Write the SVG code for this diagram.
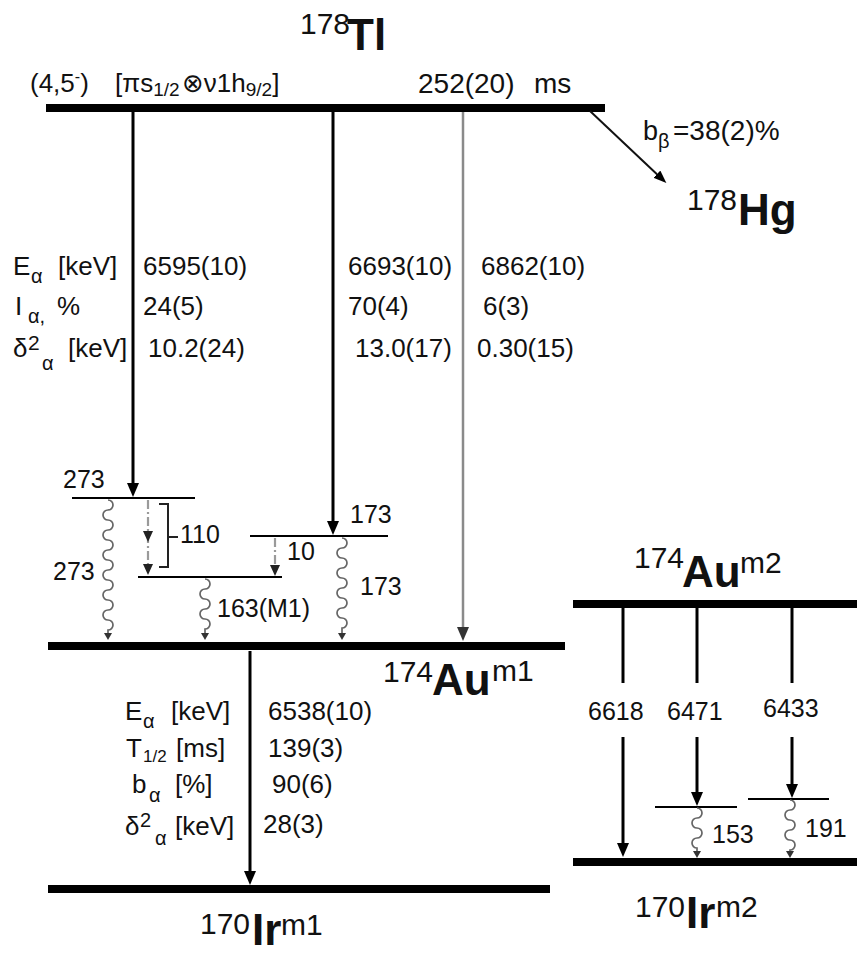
<svg xmlns="http://www.w3.org/2000/svg" width="857" height="957" viewBox="0 0 857 957">
<defs>
<style>
text{font-family:"Liberation Sans",Arial,"DejaVu Sans",sans-serif;fill:#111}
.t{font-size:26px}
.lb{font-size:25px}
.sub{font-size:20px}
.iso{font-size:30px}
.el{font-size:44px;font-weight:bold}
.lvl{stroke:#000;stroke-width:2;fill:none}
.thick{stroke:#000;stroke-width:8;fill:none}
.arr{stroke:#000;stroke-width:3;fill:none}
.garr{stroke:#8a8a8a;stroke-width:2.5;fill:none}
.wavy{stroke:#666;stroke-width:1.7;fill:none}
.dash{stroke:#9a9a9a;stroke-width:2.2;fill:none;stroke-dasharray:9 3 2 3}
.brk{stroke:#222;stroke-width:2;fill:none}
</style>
<marker id="big" markerUnits="userSpaceOnUse" viewBox="0 0 14 12" refX="8" refY="6" markerWidth="14" markerHeight="12" orient="auto"><path d="M0,0 L14,6 L0,12 z" fill="#000"/></marker>
<marker id="gbig" markerUnits="userSpaceOnUse" viewBox="0 0 14 12" refX="8" refY="6" markerWidth="14" markerHeight="12" orient="auto"><path d="M0,0 L14,6 L0,12 z" fill="#333"/></marker>
<marker id="med" markerUnits="userSpaceOnUse" viewBox="0 0 11 10" refX="6" refY="5" markerWidth="11" markerHeight="10" orient="auto"><path d="M0,0 L11,5 L0,10 z" fill="#222"/></marker>
<marker id="small" markerUnits="userSpaceOnUse" viewBox="0 0 7 8" refX="3" refY="4" markerWidth="7" markerHeight="8" orient="auto"><path d="M0,0 L7,4 L0,8 z" fill="#333"/></marker>
<marker id="beta" markerUnits="userSpaceOnUse" viewBox="0 0 13 10" refX="7" refY="5" markerWidth="13" markerHeight="10" orient="auto"><path d="M0,0 L13,5 L0,10 z" fill="#000"/></marker>
</defs>
<rect width="857" height="957" fill="#fff"/>

<g id="tl178">
<line class="thick" x1="46" y1="108" x2="605" y2="108" stroke-width="7"/>
<text class="iso" x="300" y="34" font-size="28">178</text>
<text class="el" x="347" y="50" font-size="46">Tl</text>
<text class="t" x="30" y="92">(4,5<tspan font-size="16" dy="-10">-</tspan><tspan dy="10">)</tspan><tspan x="115">[πs</tspan><tspan font-size="19" dy="4">1/2</tspan><tspan x="182" dy="-4">⊗ν1h</tspan><tspan font-size="19" dy="4">9/2</tspan><tspan dy="-4">]</tspan></text>
<text x="418" y="93" font-size="28">252(20)<tspan x="534">ms</tspan></text>
</g>

<g id="hg178">
<text class="iso" x="687" y="210">178</text>
<text class="el" x="738" y="225" font-size="45">Hg</text>
</g>

<g id="lvl273"><line class="lvl" x1="72" y1="498" x2="195" y2="498"/></g>
<g id="lvl173"><line class="lvl" x1="250" y1="536" x2="388" y2="536"/></g>
<g id="lvl110"><line class="lvl" x1="138" y1="577" x2="282" y2="577"/></g>

<g id="au174m1">
<line class="thick" x1="48" y1="646" x2="565" y2="646" stroke-width="9"/>
<text class="iso" x="383" y="682">174</text>
<text class="el" x="432" y="695" font-size="46">Au</text>
<text class="iso" x="492" y="681">m1</text>
</g>

<g id="ir170m1">
<line class="thick" x1="48" y1="889" x2="550" y2="889"/>
<text class="iso" x="200" y="934">170</text>
<text class="el" x="252" y="945" font-size="42">Ir</text>
<text class="iso" x="281" y="935">m1</text>
</g>

<g id="au174m2">
<line class="thick" x1="573" y1="604" x2="857" y2="604"/>
<text class="iso" x="634" y="568" font-size="28">174</text>
<text class="el" x="682" y="587" font-size="41">Au</text>
<text class="iso" x="740" y="573">m2</text>
</g>

<g id="lvl153"><line class="lvl" x1="655" y1="807" x2="737" y2="807"/></g>
<g id="lvl191"><line class="lvl" x1="748" y1="799" x2="829" y2="799"/></g>

<g id="ir170m2">
<line class="thick" x1="573" y1="862" x2="857" y2="862"/>
<text class="iso" x="635" y="917">170</text>
<text class="el" x="686" y="928">Ir</text>
<text class="iso" x="716" y="917">m2</text>
</g>

<g id="connectors">
<line class="arr" x1="133" y1="112" x2="133" y2="491" marker-end="url(#big)"/>
<line class="arr" x1="333" y1="112" x2="333" y2="529" marker-end="url(#big)"/>
<line class="garr" x1="463" y1="112" x2="463" y2="635" marker-end="url(#gbig)"/>
<line stroke="#111" stroke-width="2" x1="590" y1="111" x2="662" y2="179" marker-end="url(#beta)"/>
<line class="arr" x1="250" y1="651" x2="250" y2="879" marker-end="url(#big)"/>

<path class="wavy" marker-end="url(#small)" d="M108,500 a5,5 0 0,1 0,10 a5,5 0 0,0 0,10 a5,5 0 0,1 0,10 a5,5 0 0,0 0,10 a5,5 0 0,1 0,10 a5,5 0 0,0 0,10 a5,5 0 0,1 0,10 a5,5 0 0,0 0,10 a5,5 0 0,1 0,10 a5,5 0 0,0 0,10 a5,5 0 0,1 0,10 a5,5 0 0,0 0,10 a5,5 0 0,1 0,10 l0,6"/>
<path class="wavy" marker-end="url(#small)" d="M205,579 a5,5 0 0,1 0,10 a5,5 0 0,0 0,10 a5,5 0 0,1 0,10 a5,5 0 0,0 0,10 a5,5 0 0,1 0,10 l0,7"/>
<path class="wavy" marker-end="url(#small)" d="M342,538 a5,5 0 0,1 0,10 a5,5 0 0,0 0,10 a5,5 0 0,1 0,10 a5,5 0 0,0 0,10 a5,5 0 0,1 0,10 a5,5 0 0,0 0,10 a5,5 0 0,1 0,10 a5,5 0 0,0 0,10 a5,5 0 0,1 0,10 l0,8"/>

<path class="dash" marker-mid="url(#med)" marker-end="url(#med)" d="M148,500 L148,537 L148,570"/>
<path class="dash" marker-end="url(#med)" d="M275,538 L275,571"/>
<path class="brk" d="M159,504 H168 V567 H159 M168,537 H178"/>

<line class="arr" x1="623" y1="608" x2="623" y2="683"/>
<line class="arr" x1="623" y1="737" x2="623" y2="851" marker-end="url(#big)"/>
<line class="arr" x1="697" y1="608" x2="697" y2="683"/>
<line class="arr" x1="697" y1="737" x2="697" y2="800" marker-end="url(#big)"/>
<line class="arr" x1="792" y1="608" x2="792" y2="683"/>
<line class="arr" x1="792" y1="737" x2="792" y2="792" marker-end="url(#big)"/>

<path class="wavy" marker-end="url(#small)" d="M697,808 a5,5 0 0,1 0,10 a5,5 0 0,0 0,10 a5,5 0 0,1 0,10 a5,5 0 0,0 0,10 l0,6"/>
<path class="wavy" marker-end="url(#small)" d="M790,800 a5,5 0 0,1 0,10 a5,5 0 0,0 0,10 a5,5 0 0,1 0,10 a5,5 0 0,0 0,10 a5,5 0 0,1 0,10 l0,4"/>
</g>

<g id="labels">
<text x="643" y="140" font-size="27">b<tspan class="sub" font-size="18" dy="8">β</tspan><tspan x="673" dy="-8" font-size="28">=38(2)%</tspan></text>

<text class="t" x="13" y="275">E<tspan class="sub" x="31" dy="8">α</tspan><tspan x="58" dy="-8">[keV]</tspan></text>
<text class="t" x="15" y="315">I<tspan class="sub" x="28" dy="8">α,</tspan><tspan x="57" dy="-8">%</tspan></text>
<text class="t" x="13" y="357">δ<tspan font-size="21" x="28" dy="-7">2</tspan><tspan class="sub" x="42" dy="20">α</tspan><tspan x="68" dy="-13">[keV]</tspan></text>
<text class="t" x="143" y="275">6595(10)</text>
<text class="t" x="143" y="315">24(5)</text>
<text class="t" x="148" y="357">10.2(24)</text>
<text class="t" x="348" y="275">6693(10)</text>
<text class="t" x="348" y="315">70(4)</text>
<text class="t" x="355" y="357">13.0(17)</text>
<text class="t" x="481" y="275">6862(10)</text>
<text class="t" x="483" y="315">6(3)</text>
<text class="t" x="477" y="357">0.30(15)</text>

<text class="lb" x="63" y="488">273</text>
<text class="lb" x="53" y="580">273</text>
<text class="lb" x="180" y="543">110</text>
<text class="lb" x="287" y="560">10</text>
<text class="lb" x="350" y="523">173</text>
<text class="lb" x="360" y="595">173</text>
<text class="lb" x="217" y="617">163(M1)</text>

<text class="t" x="125" y="720">E<tspan class="sub" x="143" dy="8">α</tspan><tspan x="171" dy="-8">[keV]</tspan></text>
<text class="t" x="126" y="757">T<tspan font-size="17" x="143" dy="5">1/2</tspan><tspan x="176" dy="-5">[ms]</tspan></text>
<text class="t" x="132" y="793">b<tspan class="sub" x="149" dy="9">α</tspan><tspan x="175" dy="-9">[%]</tspan></text>
<text class="t" x="125" y="835">δ<tspan font-size="20" x="140" dy="-8">2</tspan><tspan class="sub" x="155" dy="18">α</tspan><tspan x="175" dy="-10">[keV]</tspan></text>
<text class="t" x="268" y="720">6538(10)</text>
<text class="t" x="268" y="757">139(3)</text>
<text class="t" x="272" y="793">90(6)</text>
<text class="t" x="263" y="833">28(3)</text>

<text class="lb" x="588" y="720">6618</text>
<text class="lb" x="667" y="720">6471</text>
<text class="lb" x="763" y="717">6433</text>
<text class="lb" x="712" y="843">153</text>
<text class="lb" x="805" y="837">191</text>
</g>
</svg>
